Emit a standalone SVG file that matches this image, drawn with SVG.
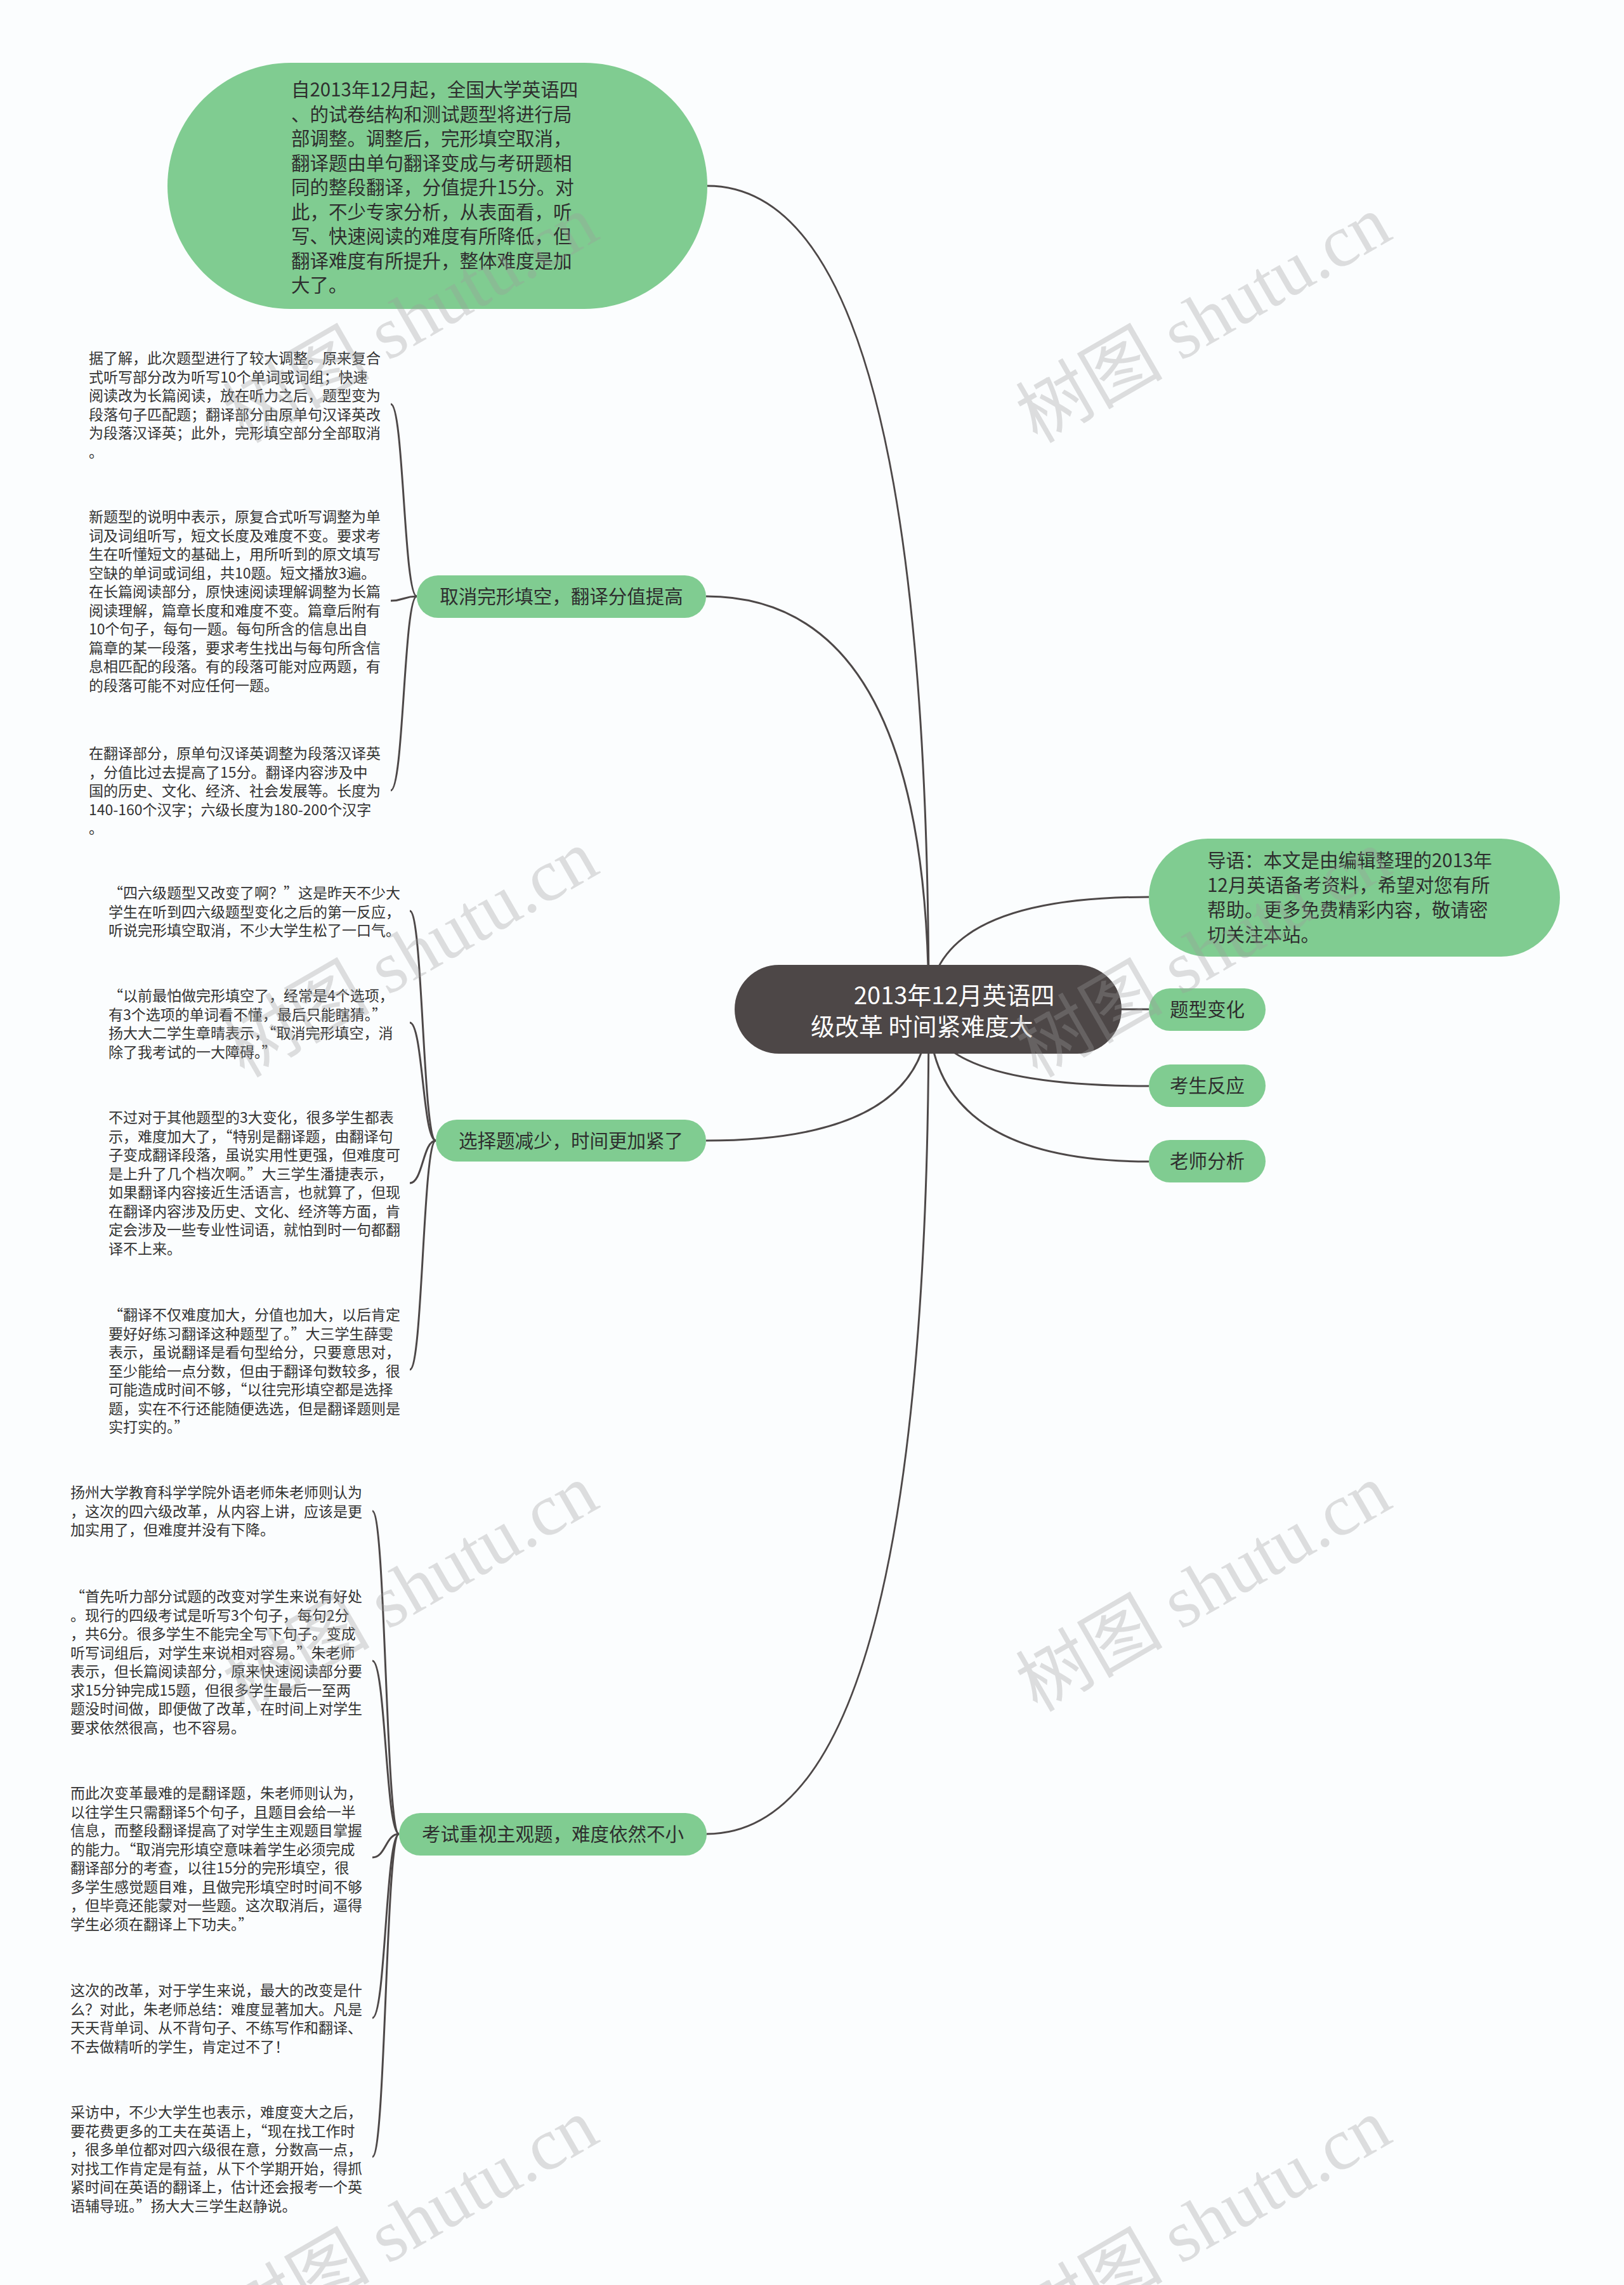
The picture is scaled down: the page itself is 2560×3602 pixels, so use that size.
<svg xmlns="http://www.w3.org/2000/svg" width="2560" height="3602" viewBox="0 0 2560 3602">
<defs>
<style>
.bg{fill:#fbfdfe}
.ln{fill:none;stroke:#4d4848;stroke-width:3}
.gn{fill:#80cc91}
.rt{fill:#4d4747}
.t{font-family:"Noto Sans CJK SC","Liberation Sans",sans-serif}
.leaf{font-size:23px;fill:#333333}
.gt{font-size:29.5px;fill:#2e2e2e}
.rtt{font-size:38px;fill:#ffffff}
.wm{font-family:"Liberation Serif","Noto Sans CJK SC",serif;font-size:116px;fill:#9a9a9a;fill-opacity:0.32}
</style>
</defs>
<rect class="bg" x="0" y="0" width="2560" height="3602"/>

<g id="connectors">
<path class="ln" d="M1464,1591 Q1464,293 1115,293"/>
<path class="ln" d="M1464,1591 Q1464,940 1113,940"/>
<path class="ln" d="M1464,1591 Q1464,1798 1113,1798"/>
<path class="ln" d="M1464,1591 Q1464,2891 1114,2891"/>
<path class="ln" d="M1464,1591 Q1464,1414 1811,1414"/>
<path class="ln" d="M1464,1591 L1811,1591"/>
<path class="ln" d="M1464,1591 Q1464,1712 1811,1712"/>
<path class="ln" d="M1464,1591 Q1464,1831 1811,1831"/>
<path class="ln" d="M657,940 C636.5,940 636.5,637 616,637"/>
<path class="ln" d="M657,940 C636.5,940 636.5,947 616,947"/>
<path class="ln" d="M657,940 C636.5,940 636.5,1246 616,1246"/>
<path class="ln" d="M687,1798 C666.5,1798 666.5,1436 646,1436"/>
<path class="ln" d="M687,1798 C666.5,1798 666.5,1612 646,1612"/>
<path class="ln" d="M687,1798 C666.5,1798 666.5,1865 646,1865"/>
<path class="ln" d="M687,1798 C666.5,1798 666.5,2159 646,2159"/>
<path class="ln" d="M629,2891 C608,2891 608,2382 587,2382"/>
<path class="ln" d="M629,2891 C608,2891 608,2618 587,2618"/>
<path class="ln" d="M629,2891 C608,2891 608,2928 587,2928"/>
<path class="ln" d="M629,2891 C608,2891 608,3181 587,3181"/>
<path class="ln" d="M629,2891 C608,2891 608,3400 587,3400"/>
</g>

<g id="root">
<rect class="rt" x="1158" y="1521" width="610" height="140" rx="70" ry="70"/>
<text class="t rtt" x="1346" y="1583">2013年12月英语四</text>
<text class="t rtt" x="1278" y="1632">级改革 时间紧难度大</text>
</g>

<g id="node-intro">
<rect class="gn" x="264" y="99" width="851" height="388" rx="194" ry="194"/>
<text class="t gt">
<tspan x="459" y="152">自2013年12月起，全国大学英语四</tspan>
<tspan x="459" y="190.5">、的试卷结构和测试题型将进行局</tspan>
<tspan x="459" y="229">部调整。调整后，完形填空取消，</tspan>
<tspan x="459" y="267.5">翻译题由单句翻译变成与考研题相</tspan>
<tspan x="459" y="306">同的整段翻译，分值提升15分。对</tspan>
<tspan x="459" y="344.5">此，不少专家分析，从表面看，听</tspan>
<tspan x="459" y="383">写、快速阅读的难度有所降低，但</tspan>
<tspan x="459" y="421.5">翻译难度有所提升，整体难度是加</tspan>
<tspan x="459" y="460">大了。</tspan>
</text>
</g>

<g id="node-daoyu">
<rect class="gn" x="1811" y="1322" width="648" height="186" rx="93" ry="93"/>
<text class="t gt">
<tspan x="1903" y="1367">导语：本文是由编辑整理的2013年</tspan>
<tspan x="1903" y="1406">12月英语备考资料，希望对您有所</tspan>
<tspan x="1903" y="1445">帮助。更多免费精彩内容，敬请密</tspan>
<tspan x="1903" y="1484">切关注本站。</tspan>
</text>
</g>

<g id="node-tixing">
<rect class="gn" x="1811" y="1558" width="184" height="67" rx="33.5" ry="33.5"/>
<text class="t gt" x="1903" y="1602" text-anchor="middle">题型变化</text>
</g>
<g id="node-kaosheng">
<rect class="gn" x="1811" y="1678" width="184" height="67" rx="33.5" ry="33.5"/>
<text class="t gt" x="1903" y="1722" text-anchor="middle">考生反应</text>
</g>
<g id="node-laoshi">
<rect class="gn" x="1811" y="1797" width="184" height="67" rx="33.5" ry="33.5"/>
<text class="t gt" x="1903" y="1841" text-anchor="middle">老师分析</text>
</g>

<g id="node-quxiao">
<rect class="gn" x="657" y="907" width="456" height="67" rx="33.5" ry="33.5"/>
<text class="t gt" x="885" y="951" text-anchor="middle">取消完形填空，翻译分值提高</text>
</g>
<g id="node-xuanze">
<rect class="gn" x="687" y="1765" width="426" height="66" rx="33" ry="33"/>
<text class="t gt" x="900" y="1809" text-anchor="middle">选择题减少，时间更加紧了</text>
</g>
<g id="node-kaoshi">
<rect class="gn" x="629" y="2858" width="485" height="67" rx="33.5" ry="33.5"/>
<text class="t gt" x="871.5" y="2902" text-anchor="middle">考试重视主观题，难度依然不小</text>
</g>

<g id="leaf-a1">
<text class="t leaf">
<tspan x="140" y="573">据了解，此次题型进行了较大调整。原来复合</tspan>
<tspan x="140" y="602.5">式听写部分改为听写10个单词或词组；快速</tspan>
<tspan x="140" y="632">阅读改为长篇阅读，放在听力之后，题型变为</tspan>
<tspan x="140" y="661.5">段落句子匹配题；翻译部分由原单句汉译英改</tspan>
<tspan x="140" y="691">为段落汉译英；此外，完形填空部分全部取消</tspan>
<tspan x="140" y="720.5">。</tspan>
</text>
</g>
<g id="leaf-a2">
<text class="t leaf">
<tspan x="140" y="823">新题型的说明中表示，原复合式听写调整为单</tspan>
<tspan x="140" y="852.5">词及词组听写，短文长度及难度不变。要求考</tspan>
<tspan x="140" y="882">生在听懂短文的基础上，用所听到的原文填写</tspan>
<tspan x="140" y="911.5">空缺的单词或词组，共10题。短文播放3遍。</tspan>
<tspan x="140" y="941">在长篇阅读部分，原快速阅读理解调整为长篇</tspan>
<tspan x="140" y="970.5">阅读理解，篇章长度和难度不变。篇章后附有</tspan>
<tspan x="140" y="1000">10个句子，每句一题。每句所含的信息出自</tspan>
<tspan x="140" y="1029.5">篇章的某一段落，要求考生找出与每句所含信</tspan>
<tspan x="140" y="1059">息相匹配的段落。有的段落可能对应两题，有</tspan>
<tspan x="140" y="1088.5">的段落可能不对应任何一题。</tspan>
</text>
</g>
<g id="leaf-a3">
<text class="t leaf">
<tspan x="140" y="1196">在翻译部分，原单句汉译英调整为段落汉译英</tspan>
<tspan x="140" y="1225.5">，分值比过去提高了15分。翻译内容涉及中</tspan>
<tspan x="140" y="1255">国的历史、文化、经济、社会发展等。长度为</tspan>
<tspan x="140" y="1284.5">140-160个汉字；六级长度为180-200个汉字</tspan>
<tspan x="140" y="1314">。</tspan>
</text>
</g>

<g id="leaf-b1">
<text class="t leaf">
<tspan x="171" y="1416">“四六级题型又改变了啊？”这是昨天不少大</tspan>
<tspan x="171" y="1445.5">学生在听到四六级题型变化之后的第一反应，</tspan>
<tspan x="171" y="1475">听说完形填空取消，不少大学生松了一口气。</tspan>
</text>
</g>
<g id="leaf-b2">
<text class="t leaf">
<tspan x="171" y="1578">“以前最怕做完形填空了，经常是4个选项，</tspan>
<tspan x="171" y="1607.5">有3个选项的单词看不懂，最后只能瞎猜。”</tspan>
<tspan x="171" y="1637">扬大大二学生章晴表示，“取消完形填空，消</tspan>
<tspan x="171" y="1666.5">除了我考试的一大障碍。”</tspan>
</text>
</g>
<g id="leaf-b3">
<text class="t leaf">
<tspan x="171" y="1770">不过对于其他题型的3大变化，很多学生都表</tspan>
<tspan x="171" y="1799.5">示，难度加大了，“特别是翻译题，由翻译句</tspan>
<tspan x="171" y="1829">子变成翻译段落，虽说实用性更强，但难度可</tspan>
<tspan x="171" y="1858.5">是上升了几个档次啊。”大三学生潘捷表示，</tspan>
<tspan x="171" y="1888">如果翻译内容接近生活语言，也就算了，但现</tspan>
<tspan x="171" y="1917.5">在翻译内容涉及历史、文化、经济等方面，肯</tspan>
<tspan x="171" y="1947">定会涉及一些专业性词语，就怕到时一句都翻</tspan>
<tspan x="171" y="1976.5">译不上来。</tspan>
</text>
</g>
<g id="leaf-b4">
<text class="t leaf">
<tspan x="171" y="2081">“翻译不仅难度加大，分值也加大，以后肯定</tspan>
<tspan x="171" y="2110.5">要好好练习翻译这种题型了。”大三学生薛雯</tspan>
<tspan x="171" y="2140">表示，虽说翻译是看句型给分，只要意思对，</tspan>
<tspan x="171" y="2169.5">至少能给一点分数，但由于翻译句数较多，很</tspan>
<tspan x="171" y="2199">可能造成时间不够，“以往完形填空都是选择</tspan>
<tspan x="171" y="2228.5">题，实在不行还能随便选选，但是翻译题则是</tspan>
<tspan x="171" y="2258">实打实的。”</tspan>
</text>
</g>

<g id="leaf-c1">
<text class="t leaf">
<tspan x="111" y="2361">扬州大学教育科学学院外语老师朱老师则认为</tspan>
<tspan x="111" y="2390.5">，这次的四六级改革，从内容上讲，应该是更</tspan>
<tspan x="111" y="2420">加实用了，但难度并没有下降。</tspan>
</text>
</g>
<g id="leaf-c2">
<text class="t leaf">
<tspan x="111" y="2525">“首先听力部分试题的改变对学生来说有好处</tspan>
<tspan x="111" y="2554.5">。现行的四级考试是听写3个句子，每句2分</tspan>
<tspan x="111" y="2584">，共6分。很多学生不能完全写下句子。变成</tspan>
<tspan x="111" y="2613.5">听写词组后，对学生来说相对容易。”朱老师</tspan>
<tspan x="111" y="2643">表示，但长篇阅读部分，原来快速阅读部分要</tspan>
<tspan x="111" y="2672.5">求15分钟完成15题，但很多学生最后一至两</tspan>
<tspan x="111" y="2702">题没时间做，即便做了改革，在时间上对学生</tspan>
<tspan x="111" y="2731.5">要求依然很高，也不容易。</tspan>
</text>
</g>
<g id="leaf-c3">
<text class="t leaf">
<tspan x="111" y="2835">而此次变革最难的是翻译题，朱老师则认为，</tspan>
<tspan x="111" y="2864.5">以往学生只需翻译5个句子，且题目会给一半</tspan>
<tspan x="111" y="2894">信息，而整段翻译提高了对学生主观题目掌握</tspan>
<tspan x="111" y="2923.5">的能力。“取消完形填空意味着学生必须完成</tspan>
<tspan x="111" y="2953">翻译部分的考查，以往15分的完形填空，很</tspan>
<tspan x="111" y="2982.5">多学生感觉题目难，且做完形填空时时间不够</tspan>
<tspan x="111" y="3012">，但毕竟还能蒙对一些题。这次取消后，逼得</tspan>
<tspan x="111" y="3041.5">学生必须在翻译上下功夫。”</tspan>
</text>
</g>
<g id="leaf-c4">
<text class="t leaf">
<tspan x="111" y="3146">这次的改革，对于学生来说，最大的改变是什</tspan>
<tspan x="111" y="3175.5">么？对此，朱老师总结：难度显著加大。凡是</tspan>
<tspan x="111" y="3205">天天背单词、从不背句子、不练写作和翻译、</tspan>
<tspan x="111" y="3234.5">不去做精听的学生，肯定过不了！</tspan>
</text>
</g>
<g id="leaf-c5">
<text class="t leaf">
<tspan x="111" y="3338">采访中，不少大学生也表示，难度变大之后，</tspan>
<tspan x="111" y="3367.5">要花费更多的工夫在英语上，“现在找工作时</tspan>
<tspan x="111" y="3397">，很多单位都对四六级很在意，分数高一点，</tspan>
<tspan x="111" y="3426.5">对找工作肯定是有益，从下个学期开始，得抓</tspan>
<tspan x="111" y="3456">紧时间在英语的翻译上，估计还会报考一个英</tspan>
<tspan x="111" y="3485.5">语辅导班。”扬大大三学生赵静说。</tspan>
</text>
</g>

<g id="watermarks">
<text class="wm" transform="translate(385,700) rotate(-30)">树图 shutu.cn</text>
<text class="wm" transform="translate(1635,700) rotate(-30)">树图 shutu.cn</text>
<text class="wm" transform="translate(385,1700) rotate(-30)">树图 shutu.cn</text>
<text class="wm" transform="translate(1635,1700) rotate(-30)">树图 shutu.cn</text>
<text class="wm" transform="translate(385,2700) rotate(-30)">树图 shutu.cn</text>
<text class="wm" transform="translate(1635,2700) rotate(-30)">树图 shutu.cn</text>
<text class="wm" transform="translate(385,3700) rotate(-30)">树图 shutu.cn</text>
<text class="wm" transform="translate(1635,3700) rotate(-30)">树图 shutu.cn</text>
</g>
</svg>
